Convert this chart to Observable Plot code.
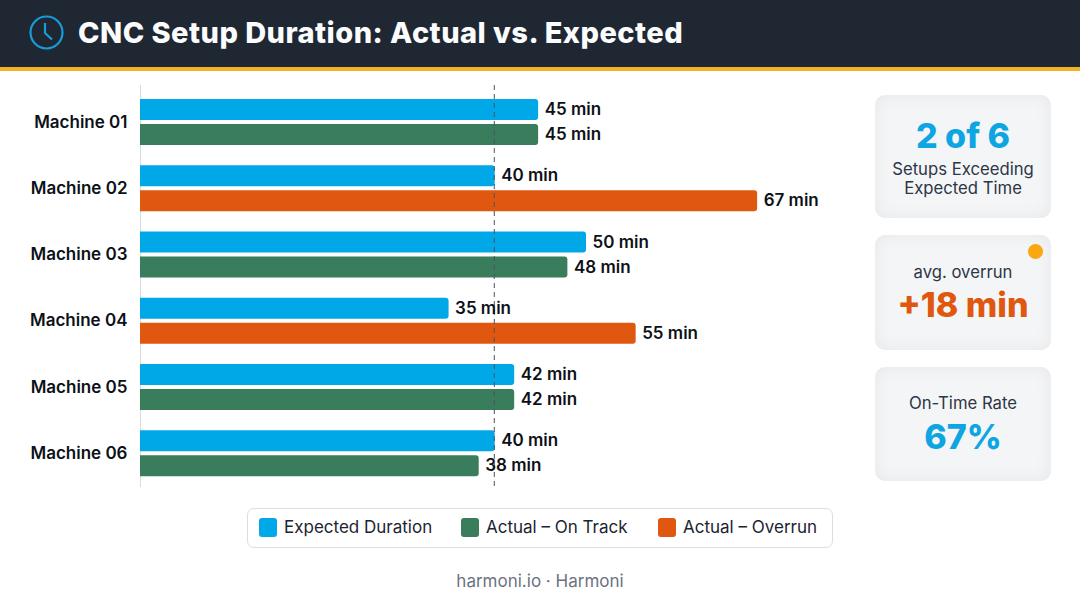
<!DOCTYPE html>
<html><head><meta charset="utf-8">
<script src="https://cdn.jsdelivr.net/npm/d3@7"></script>
<script src="https://cdn.jsdelivr.net/npm/@observablehq/plot@0.6"></script>
<style>
html,body{margin:0;padding:0;background:#fff;width:1080px;height:603px;overflow:hidden;font-family:Inter,sans-serif}
.hdr{position:absolute;left:0;top:0;width:1080px;height:67px;background:#1f2733;border-bottom:4px solid #f4b223}
.hdr svg{position:absolute;left:28px;top:14px}
.hdr h1{position:absolute;left:78px;top:14px;margin:0;font-size:29px;line-height:38px;font-weight:800;color:#fbfcfd;white-space:nowrap;letter-spacing:.46px}
#chart{position:absolute;left:0;top:85px}
#chart svg{overflow:visible}
.card{position:absolute;left:875px;width:176px;border-radius:10px;background:#f4f5f6;box-shadow:inset 0 0 16px #e6e7e9;text-align:center;color:#263040}
.card div{position:absolute;left:0;width:100%;white-space:nowrap}
.big{font-weight:800;font-size:34px;line-height:40px}
.sub{font-size:16.7px;line-height:19px;color:#2c3646}
.dot{left:153px!important;width:15px!important;height:15px;top:9px;border-radius:50%;background:#f9a80f}
.lg{position:absolute;left:247px;top:508px;width:584px;height:38px;border:1px solid #dcdee2;border-radius:7px;background:#fff}
.lg i{position:absolute;top:9px;width:18px;height:19px;border-radius:3px}
.lg span{position:absolute;top:8px;font-size:17px;line-height:21px;color:#1c2431;white-space:nowrap}
.ft{position:absolute;left:0;width:1080px;top:571px;text-align:center;font-size:17px;line-height:21px;color:#6b7280}
</style></head><body>
<div class="hdr">
<svg width="38" height="38" viewBox="0 0 38 38"><circle cx="18.5" cy="18.5" r="16" fill="none" stroke="#1a9ad6" stroke-width="2.2"/><path d="M17 9V19L24 25.5" fill="none" stroke="#1a9ad6" stroke-width="2.2"/></svg>
<h1 id="title"></h1></div>
<div id="chart"></div>
<div id="cards"></div>
<div class="lg" id="legend"></div>
<div class="ft" id="foot"></div>
<script>
const titleText = "CNC Setup Duration: Actual vs. Expected";
const machines = ["Machine 01","Machine 02","Machine 03","Machine 04","Machine 05","Machine 06"];
const expectedLabels = [45,40,50,35,42,40];
const actualLabels = [45,67,48,55,42,38];
// bar lengths as drawn in the picture, in minutes on the chart's scale
const expectedDrawn = [44.9,40,50.3,34.8,42.2,40];
const actualDrawn = [44.9,69.6,48.2,55.9,42.2,38.2];
const statusOf = ["On Track","Overrun","On Track","Overrun","On Track","On Track"];
const referenceLine = 39.9;
const seriesNames = ["Expected Duration","Actual – On Track","Actual – Overrun"];
const seriesColors = ["#00a8e8","#3a7d5c","#e0570f"];
const footerText = "harmoni.io · Harmoni";

document.getElementById("title").textContent = titleText;
document.getElementById("foot").textContent = footerText;

const exp = machines.map((m,i)=>({m,v:expectedDrawn[i],l:expectedLabels[i]+" min",s:seriesNames[0]}));
const act = machines.map((m,i)=>({m,v:actualDrawn[i],l:actualLabels[i]+" min",s:statusOf[i]==="Overrun"?seriesNames[2]:seriesNames[1]}));
const labelOpts = {x:"v",y:"m",text:"l",textAnchor:"start",dx:6,fontSize:17,fontWeight:600,fill:"#0d1117"};

const plot = Plot.plot({
  width:860,height:402,marginLeft:140,marginRight:0,marginTop:0,marginBottom:0,
  style:{fontFamily:"Inter,sans-serif",background:"transparent"},
  x:{domain:[0,81.2],range:[140,860],axis:null},
  y:{domain:machines,range:[4,401.5],padding:0,round:false,label:null},
  color:{domain:seriesNames,range:seriesColors},
  marks:[
    Plot.ruleX([0],{stroke:"#d9dbde",strokeWidth:1}),
    Plot.barX(exp,{x:"v",y:"m",fill:"s",insetTop:10,insetBottom:35.25,rx2:3}),
    Plot.barX(act,{x:"v",y:"m",fill:"s",insetTop:35,insetBottom:10.25,rx2:3}),
    Plot.ruleX([referenceLine],{stroke:"#4a5260",strokeWidth:1,strokeDasharray:"5 4"}),
    Plot.text(exp,{...labelOpts,dy:-13}),
    Plot.text(act,{...labelOpts,dy:12}),
    Plot.axisY({anchor:"left",tickSize:0,tickPadding:13,fontSize:17,fontWeight:600,fill:"#0d1117",label:null,dy:-0.4})
  ]
});
document.getElementById("chart").appendChild(plot);

const cards = [
 {top:95,h:123,parts:[["big",21,"2 of 6","#0ea5e2"],["sub",65,"Setups Exceeding"],["sub",84,"Expected Time"]]},
 {top:235,h:115,parts:[["sub",28,"avg. overrun"],["big",50,"+18 min","#e0570f"]],dot:true},
 {top:367,h:114,parts:[["sub",27,"On-Time Rate"],["big",50,"67%","#0ea5e2"]]}
];
const host=document.getElementById("cards");
cards.forEach(c=>{
 const el=document.createElement("div");el.className="card";el.style.top=c.top+"px";el.style.height=c.h+"px";
 c.parts.forEach(p=>{const d=document.createElement("div");d.className=p[0];d.style.top=p[1]+"px";d.textContent=p[2];if(p[3])d.style.color=p[3];el.appendChild(d);});
 if(c.dot){const d=document.createElement("div");d.className="dot";el.appendChild(d);}
 host.appendChild(el);
});
const lg=document.getElementById("legend");
const lgX=[11,213,410];
seriesNames.forEach((n,i)=>{
 const k=document.createElement("i");k.style.left=lgX[i]+"px";k.style.background=seriesColors[i];lg.appendChild(k);
 const t=document.createElement("span");t.style.left=(lgX[i]+25)+"px";t.textContent=n;lg.appendChild(t);
});
</script>
</body></html>
